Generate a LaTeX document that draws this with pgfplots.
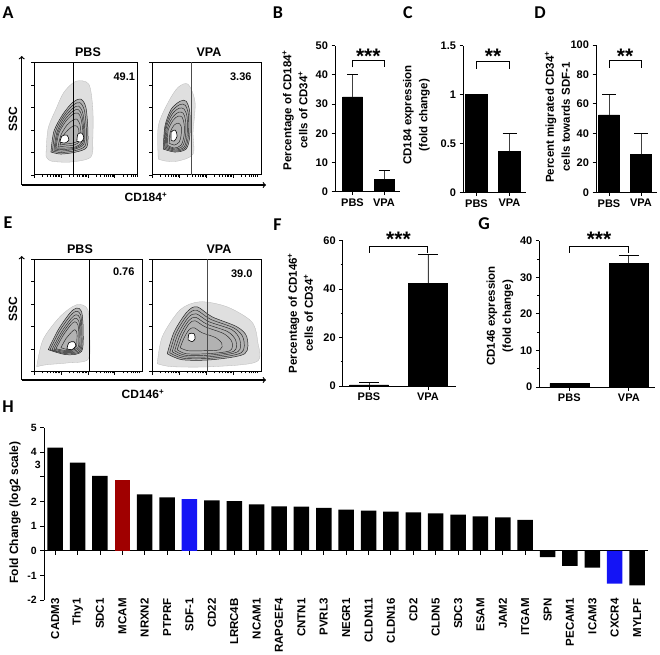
\documentclass[border=0pt]{standalone}
\usepackage{pgfplots}
\pgfplotsset{compat=1.18}
\usepackage{fontspec}
\setmainfont{Liberation Sans}
\newfontfamily\letterfont{Carlito}
\definecolor{mred}{RGB}{160,0,0}
\definecolor{mblue}{RGB}{20,20,245}
\newcommand{\tl}{\bfseries\fontsize{11}{13}\selectfont}
\newcommand{\yl}{\bfseries\fontsize{11.5}{16}\selectfont}
\newcommand{\stars}{\bfseries\fontsize{21}{21}\selectfont}
\newcommand{\pl}{\letterfont\bfseries\fontsize{18}{18}\selectfont}
\pgfplotsset{
 barax/.style={scale only axis, anchor=south west, axis lines=left,
   axis line style={-, line width=1pt}, tick align=outside,
   major tick length=3.5pt, minor tick length=2pt,
   tick style={black, line width=0.9pt},
   xtick={0,1}, xticklabels={PBS,VPA}, tick label style={font=\tl},
   /pgf/number format/assume math mode=true, clip=false},
 flowax/.style={scale only axis, anchor=south west, axis line style={line width=1pt},
   tick align=outside, major tick length=3pt, minor tick length=1.6pt,
   tick style={black, line width=0.6pt}, xtick pos=bottom, ytick pos=left,
   xticklabels=\empty, yticklabels=\empty, xmin=0, ymin=0,
   xtick={0,27,54,81},
   minor xtick={8.1,12.9,16.3,18.9,21,22.8,24.4,25.8,35.1,39.9,43.3,45.9,48,49.8,51.4,52.8,62.1,66.9,70.3,72.9,75,76.8,78.4,79.8,89.1,93.9,97.3,99.9,102,103.8,105.4},
   ytick={0,22.5,45,67.5,90,112.5}},
 env/.style={smooth, fill=gray!25, draw=gray!55, line width=0.3pt},
 c1/.style={smooth, fill=gray!60, draw=black!85, line width=0.5pt},
 cl/.style={smooth, draw=black!85, line width=0.45pt},
 spot/.style={smooth, fill=white, draw=black, line width=0.6pt},
 eb/.style={error bars/.cd, y dir=plus, y explicit,
   error bar style={black!75, line width=0.8pt},
   error mark options={rotate=90, mark size=#1, line width=1pt, black}},
}
\begin{document}
\begin{tikzpicture}[x=1pt,y=1pt]
\useasboundingbox (0,0) rectangle (660,654);
% ---------- panel letters
\node[font=\pl] at (8,641.5) {A};
\node[font=\pl] at (278,641.5) {B};
\node[font=\pl] at (408,641.5) {C};
\node[font=\pl] at (540,641.5) {D};
\node[font=\pl] at (8,431) {E};
\node[font=\pl] at (277.5,429) {F};
\node[font=\pl] at (484,430) {G};
\node[font=\pl] at (8,247) {H};
% ---------- A flow
\draw[line width=1.2pt,->] (21.7,469) -- (21.7,598);
\draw[line width=1.2pt,->] (21.7,469) -- (266,469);
\node[font=\bfseries\fontsize{12.5}{13}\selectfont] at (88,601.5) {PBS};
\node[font=\bfseries\fontsize{12.5}{13}\selectfont] at (209,601.5) {VPA};
\node[font=\bfseries\fontsize{12}{13}\selectfont, rotate=90] at (13,534.5) {SSC};
\node[font=\bfseries\fontsize{12}{13}\selectfont] at (146,457) {CD184\textsuperscript{+}};
\begin{axis}[flowax, at={(34pt,479pt)}, width=103.7pt, height=112.7pt, xmax=104, ymax=113]
\addplot[env] coordinates {(12,19)(14,46)(22,66)(30,83)(42,94)(55,91)(59,66)(59,36)(57,18)(37,13)(17,14)(12,19)};
\addplot[c1] coordinates {(17,23)(20,44)(29,61)(39,73)(47,76)(52,68)(54,46)(53,28)(42,23)(27,21)(17,23)};
\addplot[cl] coordinates {(18.5,24)(21.5,43.5)(29.5,59)(39,70)(46,72.5)(50.5,65)(52.5,45.5)(51.5,29.5)(41.5,24.5)(27.5,22.5)(18.5,24)};
\addplot[cl] coordinates {(20,25)(23,43)(30,57)(39,67)(45,69)(49,62)(51,45)(50,31)(41,26)(28,24)(20,25)};
\addplot[cl] coordinates {(21,26)(24,42.5)(31,55.5)(39,64)(44.5,65.5)(48,59.5)(50,44.5)(49,32)(41,27)(29,25.5)(21,26)};
\addplot[cl] coordinates {(22,27)(25,42)(32,54)(39,61)(44,62)(47,57)(49,44)(48,33)(41,28)(30,27)(22,27)};
\addplot[cl] coordinates {(24,28)(27,40)(33,50)(39,55)(43,56)(46,51)(47,43)(46,34)(40,30)(31,29)(24,28)};
\addplot[cl] coordinates {(26,30)(29,39)(34,45)(39,49)(43,49)(45,45)(45,38)(44,34)(39,32)(32,31)(26,30)};
\addplot[spot] coordinates {(26,33)(28,39)(33,40)(35,35)(31,32)(26,33)};
\addplot[spot] coordinates {(43,34)(44,41)(48,42)(50,37)(47,33)(43,34)};
\addplot[black, line width=0.8pt] coordinates {(40,0)(40,113)};
\node[font=\bfseries\fontsize{11}{12}\selectfont] at (axis cs:90.5,98.5) {49.1};
\end{axis}
\begin{axis}[flowax, at={(152.3pt,479pt)}, width=109.4pt, height=112.7pt, xmax=110, ymax=113]
\addplot[env] coordinates {(6,16)(6,49)(16,73)(26,88)(36,91)(43,73)(41,43)(41,21)(26,14)(13,14)(6,16)};
\addplot[c1] coordinates {(11,26)(12.7,49)(19,66)(28,74)(34,74)(37.7,63)(37.7,39)(34,26)(22.7,23)(11,26)};
\addplot[cl] coordinates {(12,27)(13.3,48)(19.5,63.5)(27.5,70.5)(33,70)(36.3,60.5)(36.3,39.5)(33,27)(22.8,24)(12,27)};
\addplot[cl] coordinates {(13,28)(14,47)(20,61)(27,67)(32,66)(35,58)(35,40)(32,28)(23,25)(13,28)};
\addplot[cl] coordinates {(14,29)(15,46)(20.5,58)(26.5,63)(31,62)(33.5,54.5)(33.5,40)(30.5,29)(22.5,26)(14,29)};
\addplot[cl] coordinates {(15,30)(16,45)(21,55)(26,59)(30,58)(32,51)(32,40)(29,30)(22,27)(15,30)};
\addplot[cl] coordinates {(17,32)(18,43)(22,50)(26,52)(29,49)(29,40)(27,33)(22,30)(17,32)};
\addplot[spot] coordinates {(19,35)(19,43)(23,45)(25,39)(22,34)(19,35)};
\addplot[black!70, line width=0.8pt] coordinates {(39.5,0)(39.5,113)};
\node[font=\bfseries\fontsize{11}{12}\selectfont] at (axis cs:89,98.5) {3.36};
\end{axis}
% ---------- E flow
\draw[line width=1.2pt,->] (21.7,274) -- (21.7,398);
\draw[line width=1.2pt,->] (21.7,274) -- (266,274);
\node[font=\bfseries\fontsize{12.5}{13}\selectfont] at (80,405) {PBS};
\node[font=\bfseries\fontsize{12.5}{13}\selectfont] at (219,405) {VPA};
\node[font=\bfseries\fontsize{12}{13}\selectfont, rotate=90] at (13,345) {SSC};
\node[font=\bfseries\fontsize{12}{13}\selectfont] at (143,260) {CD146\textsuperscript{+}};
\begin{axis}[flowax, at={(34pt,282.3pt)}, width=108.7pt, height=112.4pt, xmax=109, ymax=112.5]
\addplot[env] coordinates {(2.7,5)(9,32)(26,55)(42.7,67)(54,62)(56,32)(54,12)(32.7,8.7)(12.7,7)(2.7,5)};
\addplot[c1] coordinates {(14.3,22)(24.3,42)(36,58.7)(42.7,63.7)(47.7,60.3)(49.3,42)(47.7,20.3)(32.7,17)(14.3,22)};
\addplot[cl] coordinates {(16,22)(25.5,40.5)(36.5,56)(42.3,60.5)(46.8,57)(48,41)(46.8,21)(32.8,18)(16,22)};
\addplot[cl] coordinates {(18,22)(27,39)(37,53)(42,57)(46,54)(47,40)(46,22)(33,19)(18,22)};
\addplot[cl] coordinates {(20,22.5)(28,37.5)(37,50)(41.5,53.5)(45,50.5)(46,38.5)(45,23)(33.5,20)(20,22.5)};
\addplot[cl] coordinates {(22,23)(29,36)(37,47)(41,50)(44,47)(45,37)(44,24)(34,21)(22,23)};
\addplot[cl] coordinates {(27,24)(32,33)(38,40)(41,42)(43,39)(43,31)(42,24)(35,22)(27,24)};
\addplot[spot] coordinates {(33,23)(35,29)(40,30)(42,26)(38,22)(33,23)};
\addplot[black, line width=0.8pt] coordinates {(55.3,0)(55.3,112.5)};
\node[font=\bfseries\fontsize{11}{12}\selectfont] at (axis cs:90,100) {0.76};
\end{axis}
\begin{axis}[flowax, at={(152.3pt,282.3pt)}, width=109.4pt, height=112.4pt, xmax=110, ymax=112.5]
\addplot[env] coordinates {(5,8)(10,35)(28,62)(48,70)(75,65)(100,50)(106,30)(105,10)(60,5)(20,5)(5,8)};
\addplot[c1] coordinates {(15,18)(22,40)(35,60)(45,65)(60,55)(85,45)(95,35)(93,18)(60,12)(30,12)(15,18)};
\addplot[cl] coordinates {(17.5,19)(24,39)(35.5,57)(44.5,61.5)(58.5,52.5)(82.5,43.5)(91.5,33.5)(89.5,19)(59,13.5)(31,13.5)(17.5,19)};
\addplot[cl] coordinates {(20,20)(26,38)(36,54)(44,58)(57,50)(80,42)(88,32)(86,20)(58,15)(32,15)(20,20)};
\addplot[cl] coordinates {(22.5,21)(28,37)(36.5,51)(43.5,54.5)(55,47.5)(76,40)(84,31)(82,20.5)(56.5,16.5)(33,16.5)(22.5,21)};
\addplot[cl] coordinates {(25,22)(30,36)(37,48)(43,51)(53,45)(72,38)(80,30)(78,21)(55,18)(34,18)(25,22)};
\addplot[cl] coordinates {(28,24)(32,34)(37,42)(42,44)(50,39)(64,34)(70,28)(68,22)(52,21)(36,21)(28,24)};
\addplot[spot] coordinates {(36,32)(37,38)(42,38)(43,33)(40,30)(36,32)};
\addplot[black!70, line width=0.8pt] coordinates {(55.3,0)(55.3,112.5)};
\node[font=\bfseries\fontsize{11}{12}\selectfont] at (axis cs:90,98) {39.0};
\end{axis}
% ---------- B
\node[font=\yl, rotate=90, align=center] at (295,544) {Percentage of CD184\textsuperscript{+}\\cells of CD34\textsuperscript{+}};
\begin{axis}[barax, at={(335pt,462.3pt)}, width=65pt, height=146pt, xmin=-0.556, xmax=1.508, ymin=0, ymax=50, ytick={0,10,...,50}]
\addplot[ybar, bar width=20pt, bar shift=0pt, fill=black, draw=black, eb=5.5pt] coordinates {(0,32.5) +- (0,7.7) (1,4.2) +- (0,2.9)};
\addplot[black, line width=1pt] coordinates {(0,42.6)(0,44.9)(1,44.9)(1,42.6)};
\node[font=\stars] at (axis cs:0.5,46.5) {***};
\end{axis}
% ---------- C
\node[font=\yl, rotate=90, align=center] at (416.5,539) {CD184 expression\\(fold change)};
\begin{axis}[barax, at={(463pt,461.7pt)}, width=63pt, height=146.6pt, xmin=-0.409, xmax=1.5, ymin=0, ymax=1.5, ytick={0,0.5,1,1.5}]
\addplot[ybar, bar width=22pt, bar shift=0pt, fill=black, draw=black, eb=7pt] coordinates {(0,1.0) +- (0,0) (1,0.42) +- (0,0.18)};
\addplot[black, line width=1pt] coordinates {(0,1.265)(0,1.343)(1,1.343)(1,1.265)};
\node[font=\stars] at (axis cs:0.5,1.39) {**};
\end{axis}
% ---------- D
\node[font=\yl, rotate=90, align=center] at (557.5,537) {Percent migrated CD34\textsuperscript{+}\\cells towards SDF-1};
\begin{axis}[barax, at={(596pt,461.7pt)}, width=61pt, height=147.3pt, xmin=-0.406, xmax=1.5, ymin=0, ymax=100, ytick={0,20,...,100}]
\addplot[ybar, bar width=21pt, bar shift=0pt, fill=black, draw=black, eb=7pt] coordinates {(0,52.5) +- (0,14) (1,25.8) +- (0,14)};
\addplot[black, line width=1pt] coordinates {(0,84.7)(0,89.3)(1,89.3)(1,84.7)};
\node[font=\stars] at (axis cs:0.5,92.5) {**};
\end{axis}
% ---------- F
\node[font=\yl, rotate=90, align=center] at (300.5,341) {Percentage of CD146\textsuperscript{+}\\cells of CD34\textsuperscript{+}};
\begin{axis}[barax, at={(342.7pt,268pt)}, width=113.3pt, height=145.3pt, xmin=-0.446, xmax=1.475, ymin=0, ymax=60, ytick={0,20,40,60}, minor y tick num=1]
\addplot[ybar, bar width=39pt, bar shift=0pt, fill=black, draw=black, eb=10pt] coordinates {(0,0.5) +- (0,0.9) (1,42.4) +- (0,12)};
\addplot[black, line width=1pt] coordinates {(0,55.1)(0,57.5)(1,57.5)(1,55.1)};
\node[font=\stars] at (axis cs:0.5,60.5) {***};
\end{axis}
% ---------- G
\node[font=\yl, rotate=90, align=center] at (500,338) {CD146 expression\\(fold change)};
\begin{axis}[barax, at={(539.3pt,267pt)}, width=115.7pt, height=146.3pt, xmin=-0.504, xmax=1.44, ymin=0, ymax=40, ytick={0,10,...,40}, minor y tick num=1]
\addplot[ybar, bar width=39pt, bar shift=0pt, fill=black, draw=black, eb=10pt] coordinates {(0,1.0) +- (0,0) (1,33.9) +- (0,2.1)};
\addplot[black, line width=1pt] coordinates {(0,36.7)(0,38.3)(1,38.3)(1,36.7)};
\node[font=\stars] at (axis cs:0.5,40.3) {***};
\end{axis}
% ---------- H
\node[font=\bfseries\fontsize{12}{13}\selectfont, rotate=90] at (15,141.5) {Fold Change (log2 scale)};
\begin{axis}[scale only axis, anchor=south west, at={(44.3pt,54pt)}, width=604pt, height=172.3pt,
  xmin=-0.487, xmax=26.5, ymin=-2, ymax=5,
  axis y line=left, axis x line=middle, axis line style={-, line width=1pt},
  tick align=outside, major tick length=4pt, tick style={black, line width=0.9pt},
  xtick={0,...,26},
  xticklabels={CADM3,Thy1,SDC1,MCAM,NRXN2,PTPRF,SDF-1,CD22,LRRC4B,NCAM1,RAPGEF4,CNTN1,PVRL3,NEGR1,CLDN11,CLDN16,CD2,CLDN5,SDC3,ESAM,JAM2,ITGAM,SPN,PECAM1,ICAM3,CXCR4,MYLPF},
  xticklabel style={rotate=90, anchor=east, font=\bfseries\fontsize{11.5}{12}\selectfont},
  xticklabel shift=40pt,
  ytick={-2,...,5}, yticklabels={-2,-1,0,1,2,{},4,5},
  extra y ticks={3.5}, extra y tick labels={3}, extra y tick style={major tick length=0pt},
  yticklabel style={font=\bfseries\fontsize{10.5}{12}\selectfont},
  /pgf/number format/assume math mode=true, clip=false]
\addplot[ybar, bar width=15.5pt, bar shift=0pt, fill=black, draw=none] coordinates {
(0,4.19)(1,3.58)(2,3.04)(4,2.29)(5,2.17)(7,2.05)(8,2.02)(9,1.89)(10,1.80)(11,1.79)(12,1.74)
(13,1.67)(14,1.63)(15,1.59)(16,1.56)(17,1.52)(18,1.47)(19,1.40)(20,1.36)(21,1.26)
(22,-0.26)(23,-0.61)(24,-0.68)(26,-1.41)};
\addplot[ybar, bar width=15.5pt, bar shift=0pt, fill=mred, draw=none] coordinates {(3,2.86)};
\addplot[ybar, bar width=15.5pt, bar shift=0pt, fill=mblue, draw=none] coordinates {(6,2.10)(25,-1.33)};
\end{axis}
\end{tikzpicture}
\end{document}
